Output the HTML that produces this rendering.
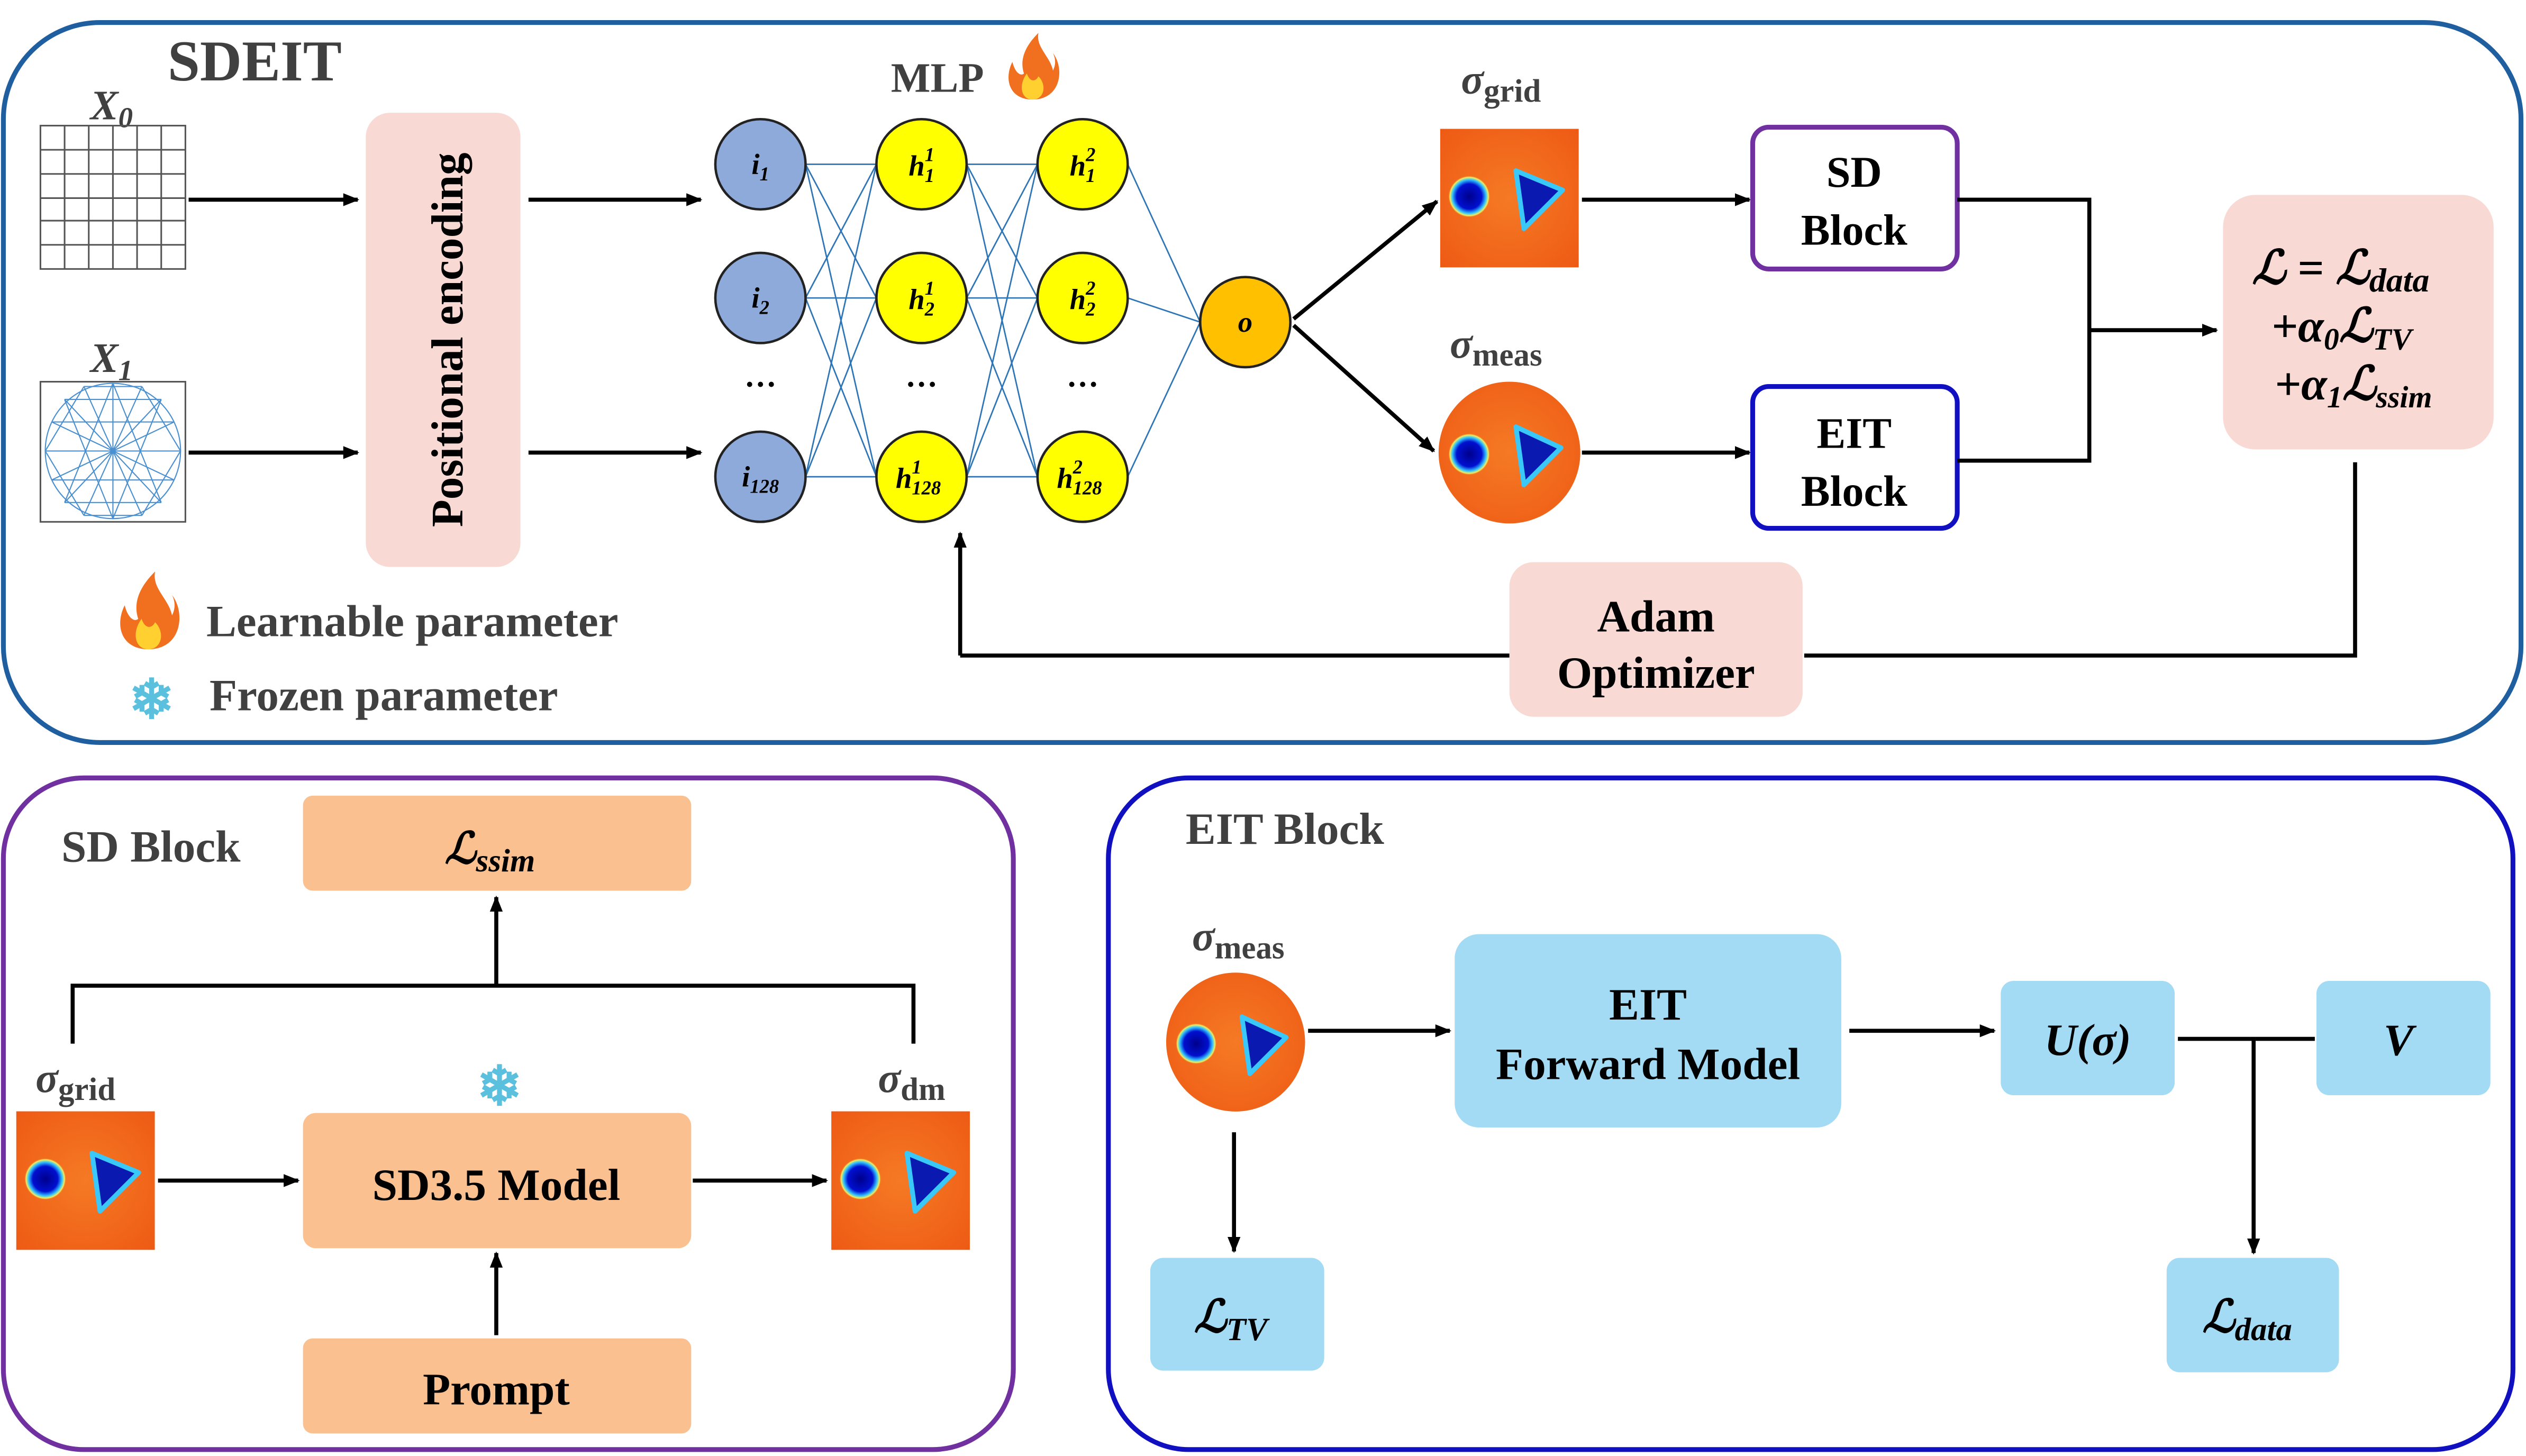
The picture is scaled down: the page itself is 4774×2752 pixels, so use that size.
<!DOCTYPE html>
<html><head><meta charset="utf-8">
<style>
html,body{margin:0;padding:0;background:#fff;}
svg{display:block;}
text{font-family:"Liberation Serif",serif;font-weight:bold;}
</style></head><body>
<svg width="4774" height="2752" viewBox="0 0 1568 904" xmlns="http://www.w3.org/2000/svg">
<defs>
<marker id="ah" markerWidth="10" markerHeight="10" refX="9" refY="5" orient="auto" markerUnits="userSpaceOnUse">
<path d="M0,1 L10,5 L0,9 Z" fill="#000"/></marker>
<radialGradient id="blob"><stop offset="0" stop-color="#00008b"/><stop offset="0.6" stop-color="#0010d0"/><stop offset="0.8" stop-color="#30c0ff"/><stop offset="0.92" stop-color="#f0f060"/><stop offset="1" stop-color="#f07020" stop-opacity="0"/></radialGradient>
<radialGradient id="bg" cx="0.5" cy="0.5" r="0.7"><stop offset="0" stop-color="#f57a25"/><stop offset="1" stop-color="#ee5a14"/></radialGradient>
<g id="heat">
<rect x="0" y="0" width="86" height="86" fill="url(#bg)"/>
<circle cx="18" cy="42" r="13" fill="url(#blob)"/>
<path d="M47,26 L76,38 L52,62 Z" fill="#0a1ab0" stroke="#3ac8f8" stroke-width="3" stroke-linejoin="round"/>
</g>
<g id="heatc">
<circle cx="0" cy="0" r="44" fill="url(#bg)"/>
<circle cx="-25" cy="1" r="13" fill="url(#blob)"/>
<path d="M4,-16 L32,-3 L9,20 Z" fill="#0a1ab0" stroke="#3ac8f8" stroke-width="3" stroke-linejoin="round"/>
</g>
<g id="fire">
<path d="M0,22 C-16,22 -20,8 -14,-4 C-12,4 -8,6 -6,4 C-10,-8 -2,-18 4,-24 C2,-14 12,-8 14,2 C16,-2 16,-6 14,-10 C22,0 20,22 0,22Z" fill="#f07020"/>
<path d="M0,22 C-8,22 -10,12 -4,4 C-2,10 2,10 4,6 C10,12 8,22 0,22Z" fill="#ffd030"/>
</g>
</defs>

<rect x="2" y="14" width="1563" height="447" rx="60" fill="none" stroke="#1f5fa0" stroke-width="3"/>
<rect x="2" y="483" width="627" height="417" rx="50" fill="none" stroke="#7030a0" stroke-width="3"/>
<rect x="688" y="483" width="872" height="417" rx="50" fill="none" stroke="#1010c0" stroke-width="3"/>

<text x="104" y="50" font-size="36" fill="#404040">SDEIT</text>

<text x="56" y="74" font-size="26" font-style="italic" fill="#404040">X<tspan font-size="18" dy="5">0</tspan></text>
<g stroke="#555" stroke-width="1" fill="none">
<rect x="25" y="78" width="90" height="89"/>
<path d="M40,78V167M55,78V167M70,78V167M85,78V167M100,78V167M25,93H115M25,108H115M25,123H115M25,137H115M25,152H115"/>
</g>
<text x="56" y="231" font-size="26" font-style="italic" fill="#404040">X<tspan font-size="18" dy="5">1</tspan></text>
<rect x="25" y="237" width="90" height="87" fill="none" stroke="#555"/>
<g stroke="#4a90d0" stroke-width="0.7" fill="none">
<circle cx="70" cy="280" r="42"/>
<path d="M28,280H112M32,262H108M32,298H108M40,248H100M40,312H100M52,240H88M52,320H88"/>
<path d="M70,238V322M52,240L88,320M88,240L52,320M40,248L100,312M100,248L40,312M32,262L108,298M108,262L32,298"/>
<path d="M28,280L52,240M28,280L52,320M112,280L88,240M112,280L88,320M40,248L70,322M100,248L70,322M40,312L70,238M100,312L70,238"/>
</g>

<rect x="227" y="70" width="96" height="282" rx="15" fill="#f9d9d4"/>
<text transform="translate(287,211) rotate(-90)" font-size="28" text-anchor="middle" fill="#000">Positional encoding</text>

<g stroke="#000" stroke-width="2.5" fill="none" marker-end="url(#ah)">
<line x1="117" y1="124" x2="222" y2="124"/>
<line x1="117" y1="281" x2="222" y2="281"/>
<line x1="328" y1="124" x2="435" y2="124"/>
<line x1="328" y1="281" x2="435" y2="281"/>
</g>

<text x="553" y="57" font-size="26" fill="#404040">MLP</text>
<use href="#fire" transform="translate(641,42) scale(0.9)"/>
<g stroke="#2e75b6" stroke-width="0.9" fill="none">
<path d="M500,102L544,102M500,102L544,185M500,102L544,296M500,185L544,102M500,185L544,185M500,185L544,296M500,296L544,102M500,296L544,185M500,296L544,296"/>
<path d="M600,102L644,102M600,102L644,185M600,102L644,296M600,185L644,102M600,185L644,185M600,185L644,296M600,296L644,102M600,296L644,185M600,296L644,296"/>
<path d="M700,102L745,200M700,185L745,200M700,296L745,200"/>
</g>
<g stroke="#222" stroke-width="1.5">
<circle cx="472" cy="102" r="28" fill="#8eaadb"/>
<circle cx="472" cy="185" r="28" fill="#8eaadb"/>
<circle cx="472" cy="296" r="28" fill="#8eaadb"/>
<circle cx="572" cy="102" r="28" fill="#ffff00"/>
<circle cx="572" cy="185" r="28" fill="#ffff00"/>
<circle cx="572" cy="296" r="28" fill="#ffff00"/>
<circle cx="672" cy="102" r="28" fill="#ffff00"/>
<circle cx="672" cy="185" r="28" fill="#ffff00"/>
<circle cx="672" cy="296" r="28" fill="#ffff00"/>
<circle cx="773" cy="200" r="28" fill="#ffc000"/>
</g>
<g font-size="18" font-style="italic" text-anchor="middle" fill="#000">
<text x="472" y="108" font-weight="normal">i<tspan font-size="12" dy="4">1</tspan></text>
<text x="472" y="191" font-weight="normal">i<tspan font-size="12" dy="4">2</tspan></text>
<text x="472" y="302" font-weight="normal">i<tspan font-size="12" dy="4">128</tspan></text>
<text x="773" y="206" font-weight="normal">o</text>
</g>
<g font-size="18" font-style="italic" fill="#000" font-weight="normal">
<text x="564" y="109" font-weight="normal">h<tspan font-size="12" dy="-9">1</tspan><tspan font-size="12" dx="-6" dy="13">1</tspan></text>
<text x="564" y="192" font-weight="normal">h<tspan font-size="12" dy="-9">1</tspan><tspan font-size="12" dx="-6" dy="13">2</tspan></text>
<text x="556" y="303" font-weight="normal">h<tspan font-size="12" dy="-9">1</tspan><tspan font-size="12" dx="-6" dy="13">128</tspan></text>
<text x="664" y="109" font-weight="normal">h<tspan font-size="12" dy="-9">2</tspan><tspan font-size="12" dx="-6" dy="13">1</tspan></text>
<text x="664" y="192" font-weight="normal">h<tspan font-size="12" dy="-9">2</tspan><tspan font-size="12" dx="-6" dy="13">2</tspan></text>
<text x="656" y="303" font-weight="normal">h<tspan font-size="12" dy="-9">2</tspan><tspan font-size="12" dx="-6" dy="13">128</tspan></text>
</g>
<g font-size="20" text-anchor="middle" fill="#000" font-weight="normal">
<text x="472" y="240" font-weight="normal">…</text><text x="572" y="240" font-weight="normal">…</text><text x="672" y="240" font-weight="normal">…</text>
</g>

<g stroke="#000" stroke-width="2.5" fill="none" marker-end="url(#ah)">
<line x1="803" y1="198" x2="892" y2="125"/>
<line x1="803" y1="202" x2="890" y2="280"/>
<line x1="982" y1="124" x2="1086" y2="124"/>
<line x1="982" y1="281" x2="1086" y2="281"/>
<line x1="1297" y1="205" x2="1376" y2="205"/>
<line x1="937" y1="407" x2="596" y2="407" marker-end="none"/>
<line x1="596" y1="407" x2="596" y2="331"/>
</g>
<text x="907" y="58" font-size="26" font-style="italic" fill="#404040">σ<tspan font-size="20" font-style="normal" dy="5">grid</tspan></text>
<use href="#heat" transform="translate(894,80)"/>
<text x="900" y="222" font-size="26" font-style="italic" fill="#404040">σ<tspan font-size="20" font-style="normal" dy="5">meas</tspan></text>
<use href="#heatc" transform="translate(937,281)"/>

<rect x="1088" y="79" width="127" height="88" rx="10" fill="#fff" stroke="#7030a0" stroke-width="3"/>
<text x="1151" y="116" font-size="27" text-anchor="middle">SD</text>
<text x="1151" y="152" font-size="27" text-anchor="middle">Block</text>
<rect x="1088" y="240" width="127" height="88" rx="10" fill="#fff" stroke="#1010c0" stroke-width="3"/>
<text x="1151" y="278" font-size="27" text-anchor="middle">EIT</text>
<text x="1151" y="314" font-size="27" text-anchor="middle">Block</text>
<path d="M1215,124H1297V286H1215" fill="none" stroke="#000" stroke-width="2.5"/>

<rect x="1380" y="121" width="168" height="158" rx="20" fill="#f9d9d4"/>
<text x="1398" y="176" font-size="29" font-style="italic">ℒ = ℒ<tspan font-size="21" dy="5">data</tspan></text>
<text x="1410" y="212" font-size="29" font-style="italic">+α<tspan font-size="19" dy="5">0</tspan><tspan dy="-5">ℒ</tspan><tspan font-size="19" dy="5">TV</tspan></text>
<text x="1412" y="248" font-size="29" font-style="italic">+α<tspan font-size="19" dy="5">1</tspan><tspan dy="-5">ℒ</tspan><tspan font-size="19" dy="5">ssim</tspan></text>
<path d="M1462,287V407H1120" fill="none" stroke="#000" stroke-width="2.5"/>

<rect x="937" y="349" width="182" height="96" rx="15" fill="#f9d9d4"/>
<text x="1028" y="392" font-size="28" text-anchor="middle">Adam</text>
<text x="1028" y="427" font-size="28" text-anchor="middle">Optimizer</text>

<use href="#fire" transform="translate(92,380) scale(1.05)"/>
<text x="128" y="395" font-size="28" fill="#404040">Learnable parameter</text>
<text x="94" y="446" font-size="34" text-anchor="middle" fill="#5bc0de" font-weight="normal">❄</text>
<text x="130" y="441" font-size="28" fill="#404040">Frozen parameter</text>

<text x="38" y="535" font-size="28" fill="#404040">SD Block</text>
<rect x="188" y="494" width="241" height="59" rx="6" fill="#fac090"/>
<text x="304" y="536" font-size="27" text-anchor="middle" font-style="italic">ℒ<tspan font-size="20" dy="5">ssim</tspan></text>
<path d="M45,648V612H567V648" fill="none" stroke="#000" stroke-width="2.5"/>
<g stroke="#000" stroke-width="2.5" fill="none" marker-end="url(#ah)">
<line x1="308" y1="612" x2="308" y2="557"/>
<line x1="98" y1="733" x2="185" y2="733"/>
<line x1="430" y1="733" x2="513" y2="733"/>
<line x1="308" y1="829" x2="308" y2="778"/>
<line x1="766" y1="703" x2="766" y2="777"/>
<line x1="812" y1="640" x2="900" y2="640"/>
<line x1="1148" y1="640" x2="1238" y2="640"/>
<line x1="1399" y1="645" x2="1399" y2="778"/>
</g>
<text x="22" y="678" font-size="26" font-style="italic" fill="#404040">σ<tspan font-size="20" font-style="normal" dy="5">grid</tspan></text>
<text x="545" y="678" font-size="26" font-style="italic" fill="#404040">σ<tspan font-size="20" font-style="normal" dy="5">dm</tspan></text>
<use href="#heat" transform="translate(10,690)"/>
<use href="#heat" transform="translate(516,690)"/>
<text x="310" y="686" font-size="34" text-anchor="middle" fill="#5bc0de" font-weight="normal">❄</text>
<rect x="188" y="691" width="241" height="84" rx="8" fill="#fac090"/>
<text x="308" y="745" font-size="28" text-anchor="middle">SD3.5 Model</text>
<rect x="188" y="831" width="241" height="59" rx="6" fill="#fac090"/>
<text x="308" y="872" font-size="28" text-anchor="middle">Prompt</text>

<text x="736" y="524" font-size="28" fill="#404040">EIT Block</text>
<text x="740" y="590" font-size="26" font-style="italic" fill="#404040">σ<tspan font-size="20" font-style="normal" dy="5">meas</tspan></text>
<use href="#heatc" transform="translate(767,647) scale(0.98)"/>
<rect x="903" y="580" width="240" height="120" rx="15" fill="#a3daf4"/>
<text x="1023" y="633" font-size="28" text-anchor="middle">EIT</text>
<text x="1023" y="670" font-size="28" text-anchor="middle">Forward Model</text>
<rect x="1242" y="609" width="108" height="71" rx="8" fill="#a3daf4"/>
<text x="1296" y="655" font-size="28" text-anchor="middle" font-style="italic">U(σ)</text>
<line x1="1352" y1="645" x2="1437" y2="645" stroke="#000" stroke-width="2.5"/>
<rect x="1438" y="609" width="108" height="71" rx="8" fill="#a3daf4"/>
<text x="1489" y="655" font-size="28" text-anchor="middle" font-style="italic">V</text>
<rect x="1345" y="781" width="107" height="71" rx="8" fill="#a3daf4"/>
<text x="1395" y="827" font-size="28" text-anchor="middle" font-style="italic">ℒ<tspan font-size="20" dy="5">data</tspan></text>
<rect x="714" y="781" width="108" height="70" rx="8" fill="#a3daf4"/>
<text x="764" y="827" font-size="28" text-anchor="middle" font-style="italic">ℒ<tspan font-size="20" dy="5">TV</tspan></text>
</svg>
</body></html>
